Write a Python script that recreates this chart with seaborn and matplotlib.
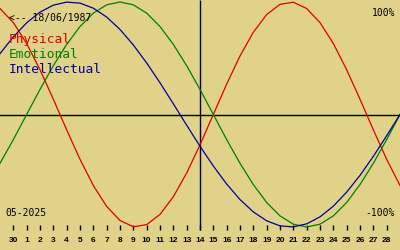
import matplotlib
matplotlib.use("Agg")
import matplotlib.pyplot as plt
import seaborn as sns
import pandas as pd

# Day offsets relative to the centre day (14 May 2025)
offsets = list(range(-15, 16))

physical = [0.942, 0.817, 0.631, 0.398, 0.136, -0.136, -0.398, -0.631, -0.817, -0.942,
            -0.998, -0.979, -0.888, -0.731, -0.520, -0.270, 0.0, 0.270, 0.520, 0.731,
            0.888, 0.979, 0.998, 0.942, 0.817, 0.631, 0.398, 0.136, -0.136, -0.398, -0.631]
emotional = [-0.434, -0.223, 0.0, 0.223, 0.434, 0.623, 0.782, 0.901, 0.975, 1.0,
             0.975, 0.901, 0.782, 0.623, 0.434, 0.223, 0.0, -0.223, -0.434, -0.623,
             -0.782, -0.901, -0.975, -1.0, -0.975, -0.901, -0.782, -0.623, -0.434, -0.223, 0.0]
intellectual = [0.541, 0.690, 0.815, 0.910, 0.972, 0.999, 0.990, 0.945, 0.866, 0.756,
                0.618, 0.458, 0.282, 0.095, -0.095, -0.282, -0.458, -0.618, -0.756, -0.866,
                -0.945, -0.990, -0.999, -0.972, -0.910, -0.815, -0.690, -0.541, -0.372, -0.189, 0.0]

tick_offsets = list(range(-14, 15))
tick_labels = ["30"] + [str(d) for d in range(1, 29)]

series_names = ["Physical", "Emotional", "Intellectual"]
series_colors = ["#e00000", "#008000", "#0000a0"]
birth_label = "<-- 18/06/1987"
month_label = "05-2025"

BG = "#e0d288"

df = pd.DataFrame({
    "offset": offsets * 3,
    "value": physical + emotional + intellectual,
    "cycle": [series_names[0]] * len(offsets) + [series_names[1]] * len(offsets)
             + [series_names[2]] * len(offsets),
})

fig = plt.figure(figsize=(4, 2.5), dpi=100)
fig.patch.set_facecolor(BG)
ax = fig.add_axes([0, 0, 1, 1])
ax.set_facecolor(BG)

# pixel mapping: y_pix = 114.5 - v*112.5
def v_of(ypix):
    return (114.5 - ypix) / 112.5

ax.set_xlim(-15, 15)
ax.set_ylim(v_of(250), v_of(0))

# axis cross
ax.axhline(0, color="black", lw=1.0, zorder=1)
ax.vlines(0, v_of(230), v_of(0), color="black", lw=1.0, zorder=1)

sns.lineplot(data=df, x="offset", y="value", hue="cycle",
             palette=dict(zip(series_names, series_colors)),
             linewidth=0.9, legend=False, ax=ax, zorder=3)

# bottom day ticks
ax.vlines(tick_offsets, v_of(230), v_of(225), color="black", lw=1.0)
for k, lab in zip(tick_offsets, tick_labels):
    ax.text(k, v_of(241.5), lab, ha="center", va="baseline",
            fontsize=6, fontweight="bold", family="Liberation Sans", color="black")

for s in ax.spines.values():
    s.set_visible(False)
ax.set_xticks([])
ax.set_yticks([])
ax.set_xlabel("")
ax.set_ylabel("")

def px(x, y):
    return x / 400, 1 - y / 250

mono = "DejaVu Sans Mono"
fig.text(*px(9, 21), birth_label, fontsize=7, family=mono, color="black", va="baseline")
for name, col, yb in zip(series_names, series_colors, [43, 58, 73]):
    fig.text(*px(9, yb), name, fontsize=9.3, family=mono, color=col, va="baseline")
fig.text(*px(395, 16), "100%", fontsize=7, family=mono, color="black", ha="right", va="baseline")
fig.text(*px(395, 216), "-100%", fontsize=7, family=mono, color="black", ha="right", va="baseline")
fig.text(*px(5, 216), month_label, fontsize=7, family=mono, color="black", va="baseline")

fig.savefig("out.png", dpi=100, facecolor=BG)
